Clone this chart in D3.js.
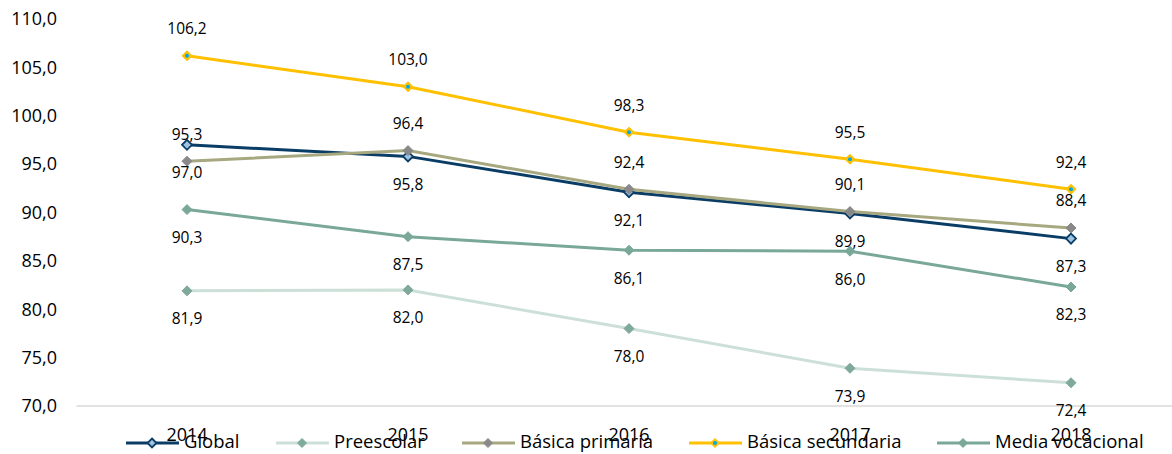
<!DOCTYPE html>
<html><head><meta charset="utf-8">
<script src="https://cdn.jsdelivr.net/npm/d3@7"></script>
<style>body{margin:0;background:#fff}svg{display:block}text{font-family:"Open Sans",sans-serif;fill:#000}</style>
</head><body><svg id="c" width="1172" height="454"></svg>
<script>
const years = ["2014","2015","2016","2017","2018"];
const global = [97.0, 95.8, 92.1, 89.9, 87.3];
const preescolar = [81.9, 82.0, 78.0, 73.9, 72.4];
const primaria = [95.3, 96.4, 92.4, 90.1, 88.4];
const secundaria = [106.2, 103.0, 98.3, 95.5, 92.4];
const media = [90.3, 87.5, 86.1, 86.0, 82.3];
const yTicks = [70, 75, 80, 85, 90, 95, 100, 105, 110];

const series = [
  {name:"Global", values:global, line:"#0a3d66", mFill:"#9fc3e0", mStroke:"#0a3d66", label:"below", lx:126},
  {name:"Preescolar", values:preescolar, line:"#cde0d8", mFill:"#7fa99a", mStroke:"#7fa99a", label:"below", lx:276},
  {name:"Básica primaria", values:primaria, line:"#a7a880", mFill:"#898989", mStroke:"#898989", label:"above", lx:462},
  {name:"Básica secundaria", values:secundaria, line:"#ffc000", mFill:"#00a8e8", mStroke:"#ffc000", label:"above", lx:689},
  {name:"Media vocacional", values:media, line:"#7aa898", mFill:"#7aa898", mStroke:"#7aa898", label:"below", lx:937}
];

const svg = d3.select("#c");
const x = d3.scaleBand().domain(years).range([76.5, 1181.5]);
const y = d3.scaleLinear().domain([70, 110]).range([406, 19]);
const cx = d => x(d) + x.bandwidth()/2;
const fmt = v => v.toFixed(1).replace(".", ",");

svg.append("g").selectAll("text").data(yTicks).join("text")
  .attr("x", 57).attr("y", d => y(d)).attr("dy", "0.35em")
  .attr("text-anchor", "end").style("font-size", "18px").text(d => fmt(d));

svg.append("line").attr("x1", 76.5).attr("x2", 1172).attr("y1", y(70)).attr("y2", y(70))
  .attr("stroke", "#d9d9d9").attr("stroke-width", 1.5);

svg.append("g").selectAll("text").data(years).join("text")
  .attr("x", d => cx(d)).attr("y", 441).attr("text-anchor", "middle")
  .style("font-size", "18px").text(d => d);

const lineGen = d3.line().x((d,i) => cx(years[i])).y(d => y(d));
const diamond = (g, s, px, py, r) => {
  g.append("path").attr("d", `M${px},${py-r}L${px+r},${py}L${px},${py+r}L${px-r},${py}Z`)
    .attr("fill", s.name==="Básica secundaria" ? "#ffc000" : s.mFill)
    .attr("stroke", s.mStroke).attr("stroke-width", s.name==="Global" ? 1.8 : 1);
  if (s.name === "Básica secundaria") {
    g.append("circle").attr("cx", px).attr("cy", py).attr("r", 2).attr("fill", s.mFill);
  }
};

const order = ["Preescolar","Media vocacional","Global","Básica primaria","Básica secundaria"];
order.forEach(n => {
  const s = series.find(t => t.name === n);
  const g = svg.append("g");
  g.append("path").datum(s.values).attr("d", lineGen).attr("fill", "none")
    .attr("stroke", s.line).attr("stroke-width", 3);
  s.values.forEach((v, i) => diamond(g, s, cx(years[i]), y(v), 5));
});

series.forEach(s => {
  svg.append("g").selectAll("text").data(s.values).join("text")
    .attr("x", (d,i) => cx(years[i]))
    .attr("y", d => y(d) + (s.label === "above" ? -27 : 28))
    .attr("dy", "0.35em").attr("text-anchor", "middle")
    .style("font-size", "15.5px").text(d => fmt(d));
});

series.forEach(s => {
  const g = svg.append("g");
  const ly = 443;
  g.append("line").attr("x1", s.lx).attr("x2", s.lx + 53).attr("y1", ly).attr("y2", ly)
    .attr("stroke", s.line).attr("stroke-width", 3);
  diamond(g, s, s.lx + 26, ly, 4.5);
  g.append("text").attr("x", s.lx + 58).attr("y", 448).style("font-size", "18.5px").text(s.name);
});
</script></body></html>
